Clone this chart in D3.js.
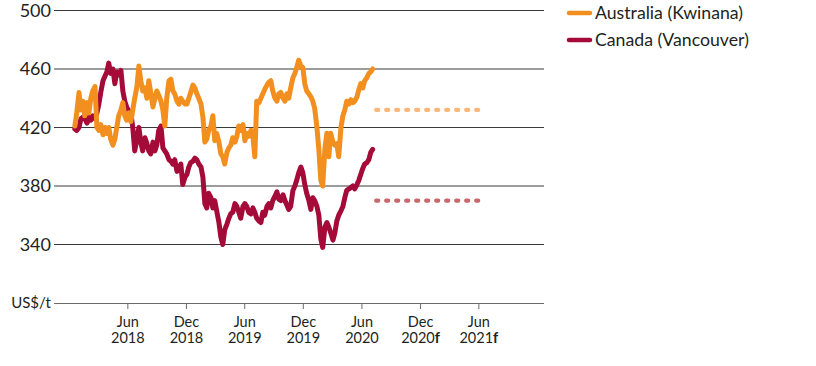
<!DOCTYPE html>
<html><head><meta charset="utf-8">
<script src="https://cdn.jsdelivr.net/npm/d3@7"></script>
<style>
body{margin:0;background:#fff}
svg{display:block}
text{font-family:Lato,"Noto Sans",sans-serif;fill:#231f20}
</style>
</head><body><svg id="chart" width="816" height="366"></svg>
<script>
// ---- data ----
const dates = [
"2017-12-19","2017-12-25","2018-01-01","2018-01-07","2018-01-13","2018-01-19","2018-01-26","2018-02-01","2018-02-07","2018-02-13",
"2018-02-20","2018-02-26","2018-03-04","2018-03-10","2018-03-17","2018-03-23","2018-03-29","2018-04-04","2018-04-10","2018-04-17",
"2018-04-23","2018-04-29","2018-05-05","2018-05-12","2018-05-18","2018-05-24","2018-05-30","2018-06-06","2018-06-12","2018-06-18",
"2018-06-24","2018-07-01","2018-07-07","2018-07-13","2018-07-19","2018-07-26","2018-08-01","2018-08-07","2018-08-13","2018-08-20",
"2018-08-26","2018-09-01","2018-09-07","2018-09-14","2018-09-20","2018-09-26","2018-10-02","2018-10-09","2018-10-15","2018-10-21",
"2018-10-27","2018-11-03","2018-11-09","2018-11-15","2018-11-21","2018-11-28","2018-12-04","2018-12-10","2018-12-16","2018-12-23",
"2018-12-29","2019-01-04","2019-01-10","2019-01-17","2019-01-23","2019-01-29","2019-02-04","2019-02-10","2019-02-17","2019-02-23",
"2019-03-01","2019-03-07","2019-03-14","2019-03-20","2019-03-26","2019-04-01","2019-04-08","2019-04-14","2019-04-20","2019-04-26",
"2019-05-03","2019-05-09","2019-05-15","2019-05-21","2019-05-28","2019-06-03","2019-06-09","2019-06-15","2019-06-22","2019-06-28",
"2019-07-04","2019-07-10","2019-07-17","2019-07-23","2019-07-29","2019-08-04","2019-08-11","2019-08-17","2019-08-23","2019-08-29",
"2019-09-05","2019-09-11","2019-09-17","2019-09-23","2019-09-30","2019-10-06","2019-10-12","2019-10-18","2019-10-24","2019-10-31",
"2019-11-06","2019-11-12","2019-11-18","2019-11-25","2019-12-01","2019-12-07","2019-12-13","2019-12-20","2019-12-26","2020-01-01",
"2020-01-07","2020-01-14","2020-01-20","2020-01-26","2020-02-01","2020-02-08","2020-02-14","2020-02-20","2020-02-26","2020-03-04",
"2020-03-10","2020-03-16","2020-03-22","2020-03-29","2020-04-04","2020-04-10","2020-04-16","2020-04-23","2020-04-29","2020-05-05",
"2020-05-11","2020-05-18","2020-05-24","2020-05-30","2020-06-05","2020-06-11","2020-06-18","2020-06-24","2020-06-30","2020-07-06"
];
const australia = [
421,430,444,432,438,428,437,430,440,445,
448,420,418,422,415,420,416,420,412,408,
412,420,428,432,437,428,425,430,424,432,
440,448,462,452,445,447,440,452,444,434,
440,445,442,438,432,421,440,452,453,445,
443,438,436,440,438,436,436,440,444,449,
447,443,440,436,427,410,412,418,421,428,
411,416,410,402,400,395,403,406,408,413,
410,414,421,418,422,411,416,414,418,414,
400,438,437,440,443,446,449,451,452,445,
440,438,443,444,440,438,443,440,447,454,
457,461,466,462,461,450,445,443,441,438,
433,420,405,384,380,406,416,400,416,410,
408,409,400,420,428,432,438,436,439,437,
438,441,446,450,447,452,454,457,458,460
];
const canada = [
419,418,420,426,427,426,423,427,425,428,
426,430,436,444,452,455,458,464,457,460,
450,458,456,459,445,438,434,431,430,420,
404,412,420,410,404,413,409,404,402,410,
404,408,418,421,406,404,402,398,397,395,
398,390,392,395,381,386,388,393,396,397,
399,398,395,393,386,368,365,375,372,365,
370,363,355,345,340,350,354,358,361,362,
368,366,362,358,366,368,366,362,361,365,
362,358,356,355,362,360,366,368,365,370,
373,376,371,370,374,370,367,364,366,377,
380,384,389,393,389,381,375,370,364,372,
370,366,360,344,338,352,355,352,348,343,
348,356,360,363,366,372,377,378,379,380,
378,381,384,388,392,395,396,398,403,405
];
const forecastDates = ["2020-07-17","2021-06-01"];
const australiaForecast = [432,432];
const canadaForecast = [370,370];

const yTicks = [300,340,380,420,460,500];
const yTickLabels = ["US$/t","340","380","420","460","500"];
const xTickDates = ["2018-06-01","2018-12-01","2019-06-01","2019-12-01","2020-06-01","2020-12-01","2021-06-01"];
const xTickMonths = ["Jun","Dec","Jun","Dec","Jun","Dec","Jun"];
const xTickYears = ["2018","2018","2019","2019","2020","2020","2021"];
const xTickSuffix = ["","","","","","f","f"];
const seriesNames = ["Australia (Kwinana)","Canada (Vancouver)"];
const seriesColors = ["#f38f1f","#a50b38"];
const forecastColors = ["#f9b779","#c8676c"];
const xDomain = ["2017-10-15","2021-12-23"];

// ---- drawing ----
const parse = d3.utcParse("%Y-%m-%d");
const svg = d3.select("#chart");
const x = d3.scaleUtc().domain(xDomain.map(parse)).range([54,544]);
const y = d3.scaleLinear().domain([300,500]).range([303,10.5]);

// gridlines
const grid = svg.append("g");
grid.selectAll("line").data(yTicks.filter(v=>v>300)).join("line")
  .attr("x1",54).attr("x2",544)
  .attr("y1",d=>y(d)).attr("y2",d=>y(d))
  .attr("stroke","#3a3a3a").attr("stroke-width",1);

// y labels
const yAxis = d3.axisLeft(y).tickValues(yTicks).tickSize(0).tickPadding(3)
  .tickFormat((d,i)=>yTickLabels[i]);
const gy = svg.append("g").attr("transform","translate(54,0)").call(yAxis);
gy.select(".domain").remove();
gy.selectAll("text").attr("font-size",d=>d===300?15:18).attr("fill","#231f20")
  .style("font-family","Lato");

// x axis
const xAxis = d3.axisBottom(x).tickValues(xTickDates.map(parse)).tickSize(6).tickFormat("");
const gx = svg.append("g").attr("transform","translate(0,303)").call(xAxis);
gx.select(".domain").attr("stroke","#6b6b6b").attr("d","M54,0.5H544");
gx.selectAll(".tick line").attr("stroke","#6b6b6b");
gx.selectAll(".tick").each(function(d,i){
  const t = d3.select(this).append("text").attr("text-anchor","middle")
    .attr("font-size",14.5).attr("fill","#231f20").style("font-family","Lato");
  t.append("tspan").attr("x",0).attr("y",24).text(xTickMonths[i]);
  t.append("tspan").attr("x",0).attr("y",40).text(xTickYears[i]);
  if (xTickSuffix[i]) t.append("tspan").attr("font-weight","bold").text(xTickSuffix[i]);
});

// lines
const line = d3.line().x(d=>x(d[0])).y(d=>y(d[1])).curve(d3.curveLinear);
const parsedDates = dates.map(parse);
const series = [australia, canada];
const forecasts = [australiaForecast, canadaForecast];
// forecasts (dotted)
[1,0].forEach(k=>{
  svg.append("path")
    .datum(forecastDates.map((d,i)=>[parse(d),forecasts[k][i]]))
    .attr("d",line).attr("fill","none")
    .attr("stroke",forecastColors[k]).attr("stroke-width",4.2)
    .attr("stroke-linecap","round").attr("stroke-dasharray","2,8");
});
// actuals: Canada under Australia
[1,0].forEach(k=>{
  svg.append("path")
    .datum(parsedDates.map((d,i)=>[d,series[k][i]]))
    .attr("d",line).attr("fill","none")
    .attr("stroke",seriesColors[k]).attr("stroke-width",5)
    .attr("stroke-linejoin","round").attr("stroke-linecap","round");
});

// legend
const lg = svg.append("g").attr("transform","translate(567,13)");
seriesNames.forEach((n,i)=>{
  const g = lg.append("g").attr("transform",`translate(0,${i*27})`);
  g.append("line").attr("x1",2).attr("x2",23).attr("y1",0).attr("y2",0)
    .attr("stroke",seriesColors[i]).attr("stroke-width",4.5).attr("stroke-linecap","round");
  g.append("text").attr("x",28).attr("y",0).attr("dy","0.35em")
    .attr("font-size",17.7).text(n);
});
</script>
</body></html>
